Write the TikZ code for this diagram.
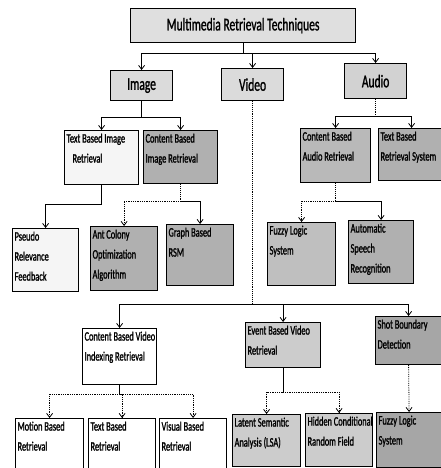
\documentclass[tikz,border=0pt]{standalone}
\usepackage{fontspec}
\setmainfont{Carlito}[FakeStretch=0.64,FakeBold=1.2]
\usetikzlibrary{arrows.meta}
\newcommand{\boxtxt}[3]{\parbox[c][#2pt][t]{#1pt}{\raggedright\vspace*{1pt}#3}}
\begin{document}
\begin{tikzpicture}[x=1pt,y=-1pt,
  bx/.style={draw=black, line width=1.2pt, anchor=north west, inner sep=2pt, align=left,
     font=\fontsize{13}{20}\selectfont},
  top/.style={draw=black, line width=1.2pt, anchor=north west, inner sep=0pt, align=center,
     font=\fontsize{18}{20}\selectfont},
  ln/.style={line width=1pt},
  dstem/.style={line width=0.9pt, densely dotted},
  arr/.style={line width=0.8pt, -{Straight Barb[length=4pt,width=6pt]}},
  darr/.style={arr, densely dotted},
  lightf/.style={fill=gray!8},
  midf/.style={fill=gray!40},
  darkf/.style={fill=gray!62}]
\useasboundingbox (0,0) rectangle (441,468);
% top level
\node[top, fill=gray!25, minimum width=225pt, minimum height=34pt] (title) at (130,8) {Multimedia Retrieval Techniques};
\node[top, fill=gray!28, minimum width=62pt, minimum height=30pt] (image) at (110,70) {Image};
\node[top, fill=gray!28, minimum width=62pt, minimum height=32pt] (video) at (221,68) {Video};
\node[top, fill=gray!35, minimum width=62pt, minimum height=35pt] (audio) at (344,63) {Audio};
% image branch
\node[bx, lightf] (tbir) at (64,130) {\boxtxt{70}{50}{\mbox{Text Based Image}\\\hspace*{6pt}Retrieval}};
\node[bx, darkf] (cbir) at (143,130) {\boxtxt{70}{49}{Content Based\\\mbox{Image Retrieval}}};
\node[bx, lightf] (pseudo) at (12,228) {\boxtxt{62}{59}{Pseudo\\Relevance\\Feedback}};
\node[bx, darkf] (aco) at (90,226) {\boxtxt{63}{60}{Ant Colony\\Optimization\\Algorithm}};
\node[bx, darkf] (graph) at (166,224) {\boxtxt{63}{57}{Graph Based\\RSM}};
% audio branch
\node[bx, fill=gray!55] (cbar) at (300,128) {\boxtxt{66}{50}{Content Based\\\mbox{Audio Retrieval}}};
\node[bx, darkf] (tbrs) at (378,128) {\boxtxt{62}{48}{Text Based\\\mbox{Retrieval System}}};
\node[bx, fill=gray!50] (fuzzya) at (267,222) {\boxtxt{64}{59}{Fuzzy Logic\\System}};
\node[bx, darkf] (asr) at (348,220) {\boxtxt{61}{59}{Automatic\\Speech\\Recognition}};
% video branch
\node[bx, fill=white] (cbvi) at (82,328) {\boxtxt{70}{52}{\mbox{Content Based Video}\\\mbox{Indexing Retrieval}}};
\node[bx, midf] (ebvr) at (245,322) {\boxtxt{71}{41}{\mbox{Event Based Video}\\Retrieval}};
\node[bx, fill=gray!70] (sbd) at (375,316) {\boxtxt{62}{44}{\mbox{Shot Boundary}\\Detection}};
\node[bx, fill=white] (motion) at (15,418) {\boxtxt{64}{46}{\mbox{Motion Based}\\Retrieval}};
\node[bx, fill=white] (textr) at (88,418) {\boxtxt{63}{46}{Text Based\\Retrieval}};
\node[bx, fill=white] (visual) at (159,418) {\boxtxt{63}{46}{\mbox{Visual Based}\\Retrieval}};
\node[bx, midf] (lsa) at (232,414) {\boxtxt{64}{48}{\mbox{Latent Semantic}\\\mbox{Analysis (LSA)}}};
\node[bx, midf] (hcrf) at (305,413) {\boxtxt{63}{49}{\mbox{Hidden Conditional}\\\mbox{Random Field}}};
\node[bx, fill=gray!70] (fuzzyv) at (376,412) {\boxtxt{61}{51}{Fuzzy Logic\\System}};
% connectors: title
\draw[ln] (title.south) -- ++(0,10) coordinate (tb);
\draw[arr] (tb) -| (image.north);
\draw[arr] (tb) -| (video.north);
\draw[arr] (tb) -| (audio.north);
% image
\draw[ln] (image.south) -- ++(0,16) coordinate (ib);
\draw[arr] (ib) -| (tbir.north);
\draw[arr] (ib) -| (cbir.north);
\draw[ln] (tbir.south) -- ++(0,19) coordinate (pb);
\draw[arr] (pb) -| (pseudo.north);
\draw[dstem] (cbir.south) -- ++(0,17) coordinate (cb);
\draw[darr] (cb) -| (aco.north);
\draw[arr] (cb) -| (graph.north);
% audio
\draw[dstem] (audio.south) -- ++(0,17) coordinate (ab);
\draw[arr] (ab) -| (cbar.north);
\draw[arr] (ab) -| (tbrs.north);
\draw[dstem] (cbar.south) -- ++(0,18) coordinate (cab);
\draw[darr] (cab) -| (fuzzya.north);
\draw[arr] (cab) -| (asr.north);
% video
\draw[dstem] (video.south) -- ++(0,203) coordinate (vb);
\draw[arr] (vb) -| (cbvi.north);
\draw[arr] (vb) -| (ebvr.north);
\draw[arr] (vb) -| (sbd.north);
\draw[ln] (cbvi.south) -- ++(0,9) coordinate (cvb);
\draw[darr] (cvb) -| (motion.north);
\draw[darr] (cvb) -| (textr.north);
\draw[darr] (cvb) -| (visual.north);
\draw[ln] (ebvr.south) -- ++(0,24) coordinate (eb);
\draw[darr] (eb) -| (lsa.north);
\draw[darr] (eb) -| (hcrf.north);
\draw[darr] (sbd.south) -- (fuzzyv.north);
\end{tikzpicture}
\end{document}
